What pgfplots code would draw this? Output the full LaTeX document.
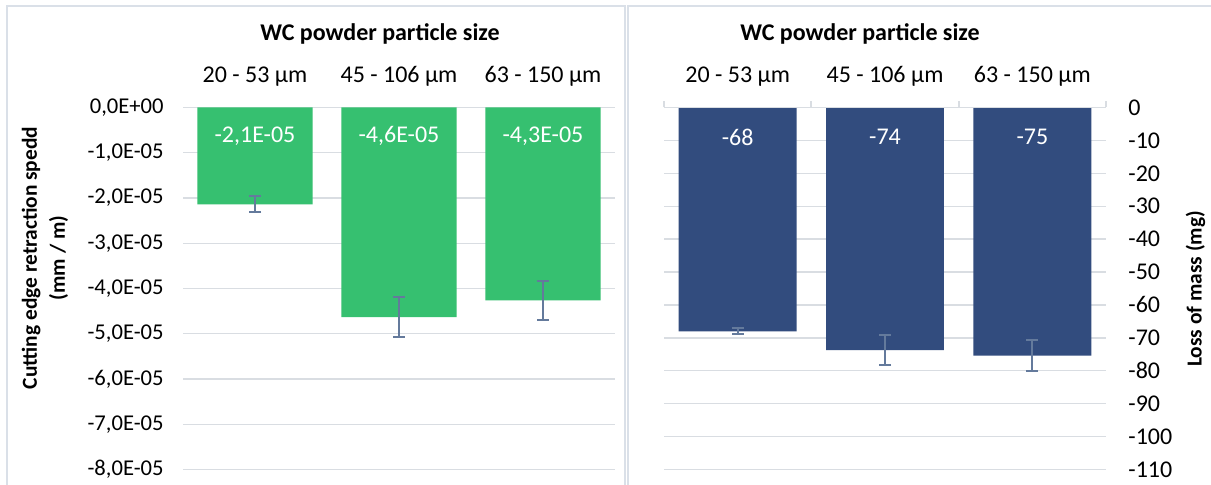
\documentclass[border=0pt]{standalone}
\usepackage{pgfplots}
\pgfplotsset{compat=1.18}
\usepackage{fontspec}
\setmainfont{Carlito}

\definecolor{barGreen}{RGB}{54,192,112}
\definecolor{barBlue}{RGB}{50,76,126}
\definecolor{errCol}{RGB}{100,122,156}
\definecolor{gridCol}{RGB}{217,221,226}
\definecolor{frameCol}{RGB}{218,224,232}

\pgfplotsset{
  panel/.style={
    scale only axis,
    anchor=south west,
    width=216pt, height=181pt,
    xmin=-0.5, xmax=2.5,
    xtick={0,1,2},
    xticklabels={20 - 53 µm, 45 - 106 µm, 63 - 150 µm},
    xticklabel pos=upper,
    xticklabel style={anchor=base, yshift=12.5pt, font=\fontsize{12}{14}\selectfont},
    axis line style={draw=none},
    major tick length=0pt,
    scaled y ticks=false,
    ymajorgrids,
    grid style={gridCol, line width=0.7pt},
    clip=false,
  },
  errstyle/.style={
    error bars/.cd,
      y dir=both, y explicit,
      error bar style={errCol, line width=1pt},
      error mark options={rotate=90, errCol, mark size=3pt, line width=1pt},
  },
  vallabel/.style={
    only marks, mark=none,
    point meta=explicit symbolic,
    nodes near coords,
    every node near coord/.append style={anchor=center, white,
      font=\fontsize{12}{14}\selectfont},
  },
}

\begin{document}
\fontsize{10.5}{14}\selectfont
\begin{tikzpicture}
\useasboundingbox (0,0) rectangle (605.5pt,242.5pt);
\fill[white] (0,0) rectangle (605.5pt,242.5pt);
% chart frames
\draw[frameCol, line width=0.7pt] (3.5pt,0) -- (3.5pt,239.5pt) -- (312.5pt,239.5pt) -- (312.5pt,0);
\draw[frameCol, line width=0.7pt] (314pt,0) -- (314pt,239.5pt) -- (606pt,239.5pt);

% left panel
\begin{axis}[panel,
  at={(91.5pt,7.75pt)},
  ymin=-8e-5, ymax=0,
  ytick={-8e-5,-7e-5,-6e-5,-5e-5,-4e-5,-3e-5,-2e-5,-1e-5,0},
  yticklabels={{-8,0E-05},{-7,0E-05},{-6,0E-05},{-5,0E-05},{-4,0E-05},{-3,0E-05},{-2,0E-05},{-1,0E-05},{0,0E+00}},
  yticklabel style={anchor=east, xshift=-6pt, font=\fontsize{11.3}{13}\selectfont},
]
\addplot[ybar, bar width=0.8, fill=barGreen, draw=none, errstyle] coordinates {
  (0,-2.14e-5) +- (0,0.175e-5)
  (1,-4.63e-5) +- (0,0.45e-5)
  (2,-4.26e-5) +- (0,0.43e-5)
};
\addplot[vallabel] coordinates {
  (0,-0.63e-5) [{-2,1E-05}]
  (1,-0.63e-5) [{-4,6E-05}]
  (2,-0.63e-5) [{-4,3E-05}]
};
\end{axis}

% right panel
\begin{axis}[panel,
  at={(332pt,7.75pt)}, width=221pt,
  ymin=-110, ymax=0,
  ytick={-110,-100,-90,-80,-70,-60,-50,-40,-30,-20,-10,0},
  yticklabels={-110,-100,-90,-80,-70,-60,-50,-40,-30,-20,-10,0},
  yticklabel pos=right,
  yticklabel style={anchor=west, xshift=7.5pt, font=\fontsize{12}{14}\selectfont},
]
\addplot[ybar, bar width=0.8, fill=barBlue, draw=none, errstyle] coordinates {
  (0,-68.0) +- (0,0.85)
  (1,-73.7) +- (0,4.5)
  (2,-75.4) +- (0,4.7)
};
\addplot[vallabel] coordinates {
  (0,-9.0) [-68]
  (1,-9.0) [-74]
  (2,-9.0) [-75]
};
% horizontal axis line with category ticks
\draw[gridCol, line width=0.9pt] (axis cs:-0.5,0) -- (axis cs:2.5,0);
\draw[gridCol, line width=0.9pt] (axis cs:-0.5,0) -- ([yshift=3pt]axis cs:-0.5,0);
\draw[gridCol, line width=0.9pt] (axis cs:0.5,0) -- ([yshift=3pt]axis cs:0.5,0);
\draw[gridCol, line width=0.9pt] (axis cs:1.5,0) -- ([yshift=3pt]axis cs:1.5,0);
\draw[gridCol, line width=0.9pt] (axis cs:2.5,0) -- ([yshift=3pt]axis cs:2.5,0);
\end{axis}

% titles and axis labels
\node[anchor=base, font=\fontsize{12}{14}\selectfont\bfseries] at (190pt,222pt) {WC powder particle size};
\node[anchor=base, font=\fontsize{12}{14}\selectfont\bfseries] at (430pt,222pt) {WC powder particle size};
\node[rotate=90, align=center, font=\fontsize{10.7}{14}\selectfont\bfseries] at (22.5pt,113.5pt)
  {Cutting edge retraction spedd\\(mm / m)};
\node[rotate=90, font=\fontsize{10.7}{14}\selectfont\bfseries] at (597.8pt,98pt) {Loss of mass (mg)};
\end{tikzpicture}
\end{document}
